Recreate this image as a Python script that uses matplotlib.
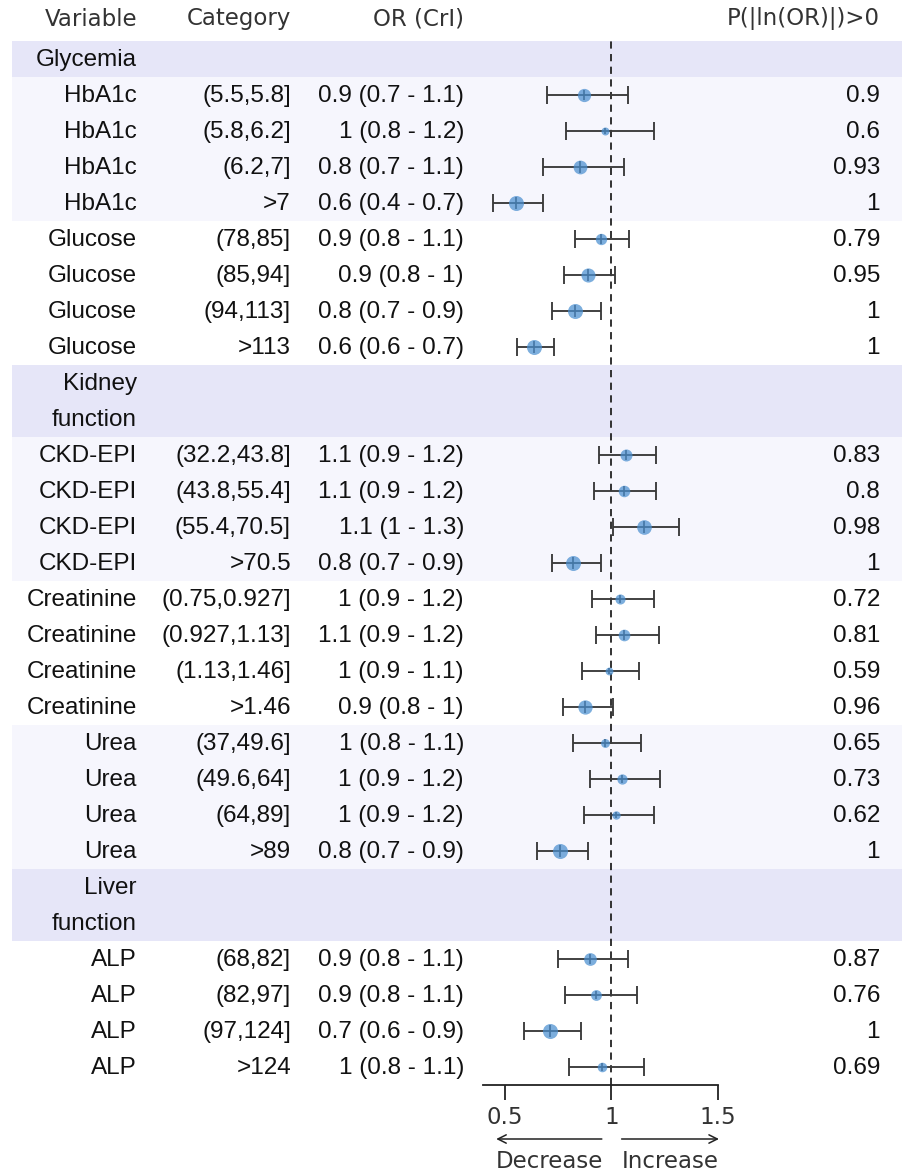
import numpy as np
import matplotlib
matplotlib.use("Agg")
import matplotlib.pyplot as plt

# ---- data ----
groups = ["Glycemia", "Kidney\nfunction", "Liver\nfunction"]
group_vars = [["HbA1c", "Glucose"], ["CKD-EPI", "Creatinine", "Urea"], ["ALP"]]

categories = {
    "HbA1c": ["(5.5,5.8]", "(5.8,6.2]", "(6.2,7]", ">7"],
    "Glucose": ["(78,85]", "(85,94]", "(94,113]", ">113"],
    "CKD-EPI": ["(32.2,43.8]", "(43.8,55.4]", "(55.4,70.5]", ">70.5"],
    "Creatinine": ["(0.75,0.927]", "(0.927,1.13]", "(1.13,1.46]", ">1.46"],
    "Urea": ["(37,49.6]", "(49.6,64]", "(64,89]", ">89"],
    "ALP": ["(68,82]", "(82,97]", "(97,124]", ">124"],
}
or_labels = {
    "HbA1c": ["0.9 (0.7 - 1.1)", "1 (0.8 - 1.2)", "0.8 (0.7 - 1.1)", "0.6 (0.4 - 0.7)"],
    "Glucose": ["0.9 (0.8 - 1.1)", "0.9 (0.8 - 1)", "0.8 (0.7 - 0.9)", "0.6 (0.6 - 0.7)"],
    "CKD-EPI": ["1.1 (0.9 - 1.2)", "1.1 (0.9 - 1.2)", "1.1 (1 - 1.3)", "0.8 (0.7 - 0.9)"],
    "Creatinine": ["1 (0.9 - 1.2)", "1.1 (0.9 - 1.2)", "1 (0.9 - 1.1)", "0.9 (0.8 - 1)"],
    "Urea": ["1 (0.8 - 1.1)", "1 (0.9 - 1.2)", "1 (0.9 - 1.2)", "0.8 (0.7 - 0.9)"],
    "ALP": ["0.9 (0.8 - 1.1)", "0.9 (0.8 - 1.1)", "0.7 (0.6 - 0.9)", "1 (0.8 - 1.1)"],
}
or_est = {
    "HbA1c": [0.869, 0.968, 0.850, 0.552],
    "Glucose": [0.950, 0.890, 0.830, 0.638],
    "CKD-EPI": [1.071, 1.061, 1.151, 0.821],
    "Creatinine": [1.041, 1.061, 0.989, 0.877],
    "Urea": [0.970, 1.049, 1.020, 0.759],
    "ALP": [0.899, 0.929, 0.710, 0.958],
}
or_lo = {
    "HbA1c": [0.698, 0.788, 0.677, 0.445],
    "Glucose": [0.827, 0.778, 0.720, 0.558],
    "CKD-EPI": [0.942, 0.918, 1.006, 0.720],
    "Creatinine": [0.909, 0.927, 0.860, 0.770],
    "Urea": [0.819, 0.901, 0.869, 0.648],
    "ALP": [0.748, 0.780, 0.591, 0.799],
}
or_hi = {
    "HbA1c": [1.079, 1.201, 1.057, 0.679],
    "Glucose": [1.082, 1.019, 0.950, 0.729],
    "CKD-EPI": [1.210, 1.210, 1.319, 0.950],
    "Creatinine": [1.201, 1.222, 1.132, 1.009],
    "Urea": [1.140, 1.229, 1.201, 0.890],
    "ALP": [1.080, 1.121, 0.858, 1.152],
}
prob = {
    "HbA1c": [0.9, 0.6, 0.93, 1],
    "Glucose": [0.79, 0.95, 1, 1],
    "CKD-EPI": [0.83, 0.8, 0.98, 1],
    "Creatinine": [0.72, 0.81, 0.59, 0.96],
    "Urea": [0.65, 0.73, 0.62, 1],
    "ALP": [0.87, 0.76, 1, 0.69],
}
headers = ["Variable", "Category", "OR (CrI)", "P(|ln(OR)|)>0"]

# ---- layout (pixel units, 100 dpi) ----
W, H = 902, 1172
row_h = 36
y0 = 23
col_x = [137, 291, 464, 880]
band_head = "#e6e6f8"
band_light = "#f6f6fd"
txt_font = "Liberation Sans"
hdr_font = "DejaVu Sans"
txt_size = 17.5
hdr_size = 16.5

fig = plt.figure(figsize=(W / 100, H / 100), dpi=100)
bg = fig.add_axes([0, 0, 1, 1])
bg.set_xlim(0, W)
bg.set_ylim(H, 0)
bg.axis("off")

for x, h in zip(col_x, headers):
    bg.text(x, 19, h, ha="right", va="center", fontsize=hdr_size,
            family=hdr_font, color="#333333")

# build rows
rows = []  # (kind, payload)
for g, vs in zip(groups, group_vars):
    for line in g.split("\n"):
        rows.append(("head", line))
    for v in vs:
        for k in range(4):
            rows.append(("data", (v, k)))

ax_top, ax_bot = 40, 1085
fx = fig.add_axes([483 / W, 1 - ax_bot / H, (717.7 - 483) / W, (ax_bot - ax_top) / H])
fx.patch.set_alpha(0)
fx.set_xlim(0.396, 1.5)
fx.set_ylim(ax_bot, ax_top)

var_order = [v for vs in group_vars for v in vs]
idx = 1
for kind, p in rows:
    y = y0 + row_h * idx
    if kind == "head":
        bg.add_patch(plt.Rectangle((12, y - row_h / 2), W - 12, row_h,
                                   color=band_head, lw=0, zorder=0))
        bg.text(col_x[0], y + 1, p, ha="right", va="center", fontsize=txt_size,
                family=txt_font, color="#111111")
    else:
        v, k = p
        if var_order.index(v) % 2 == 0:
            bg.add_patch(plt.Rectangle((12, y - row_h / 2), W - 12, row_h,
                                       color=band_light, lw=0, zorder=0))
        cells = [v, categories[v][k], or_labels[v][k], str(prob[v][k])]
        for x, c in zip(col_x, cells):
            bg.text(x, y + 1, c, ha="right", va="center", fontsize=txt_size,
                    family=txt_font, color="#111111")

        est, lo, hi, pr = or_est[v][k], or_lo[v][k], or_hi[v][k], prob[v][k]
        d = (8.0 + (pr - 0.6) * 17.5) * 0.72
        fx.errorbar(est, y, xerr=[[est - lo], [hi - est]], fmt="none",
                    ecolor="#3a3a3a", elinewidth=1.35, capsize=6.5,
                    capthick=1.35, zorder=3)
        fx.plot(est, y, marker="|", ms=d * 0.8, mew=1.2, color="#333333",
                zorder=3)
        fx.scatter(est, y, s=d ** 2, color="#4a8fd0", alpha=0.72, lw=0,
                   zorder=4)
    idx += 1

fx.axvline(1, color="#222222", lw=1.3, ls=(0, (4, 3)), zorder=2)

# x axis
for s in ["top", "right", "left"]:
    fx.spines[s].set_visible(False)
fx.spines["bottom"].set_linewidth(1.3)
fx.spines["bottom"].set_color("#222222")
fx.set_yticks([])
fx.set_xticks([0.5, 1, 1.5])
fx.set_xticklabels(["0.5", "1", "1.5"])
fx.tick_params(axis="x", length=11, width=1.3, color="#222222", pad=4,
               labelsize=hdr_size, labelcolor="#333333")
for t in fx.get_xticklabels():
    t.set_family(hdr_font)

# direction arrows
arr_y = 1139
arrow_style = "->,head_length=0.6,head_width=0.3"
fx.annotate("", xy=(0.445, arr_y), xytext=(0.968, arr_y),
            arrowprops=dict(arrowstyle=arrow_style, color="#222222", lw=1.1),
            annotation_clip=False)
fx.annotate("", xy=(1.519, arr_y), xytext=(1.035, arr_y),
            arrowprops=dict(arrowstyle=arrow_style, color="#222222", lw=1.1),
            annotation_clip=False)
fx.text(0.71, 1161, "Decrease", ha="center", va="center", fontsize=hdr_size,
        family=hdr_font, color="#333333", clip_on=False)
fx.text(1.275, 1161, "Increase", ha="center", va="center", fontsize=hdr_size,
        family=hdr_font, color="#333333", clip_on=False)

fig.savefig("out.png", dpi=100, facecolor="white")
